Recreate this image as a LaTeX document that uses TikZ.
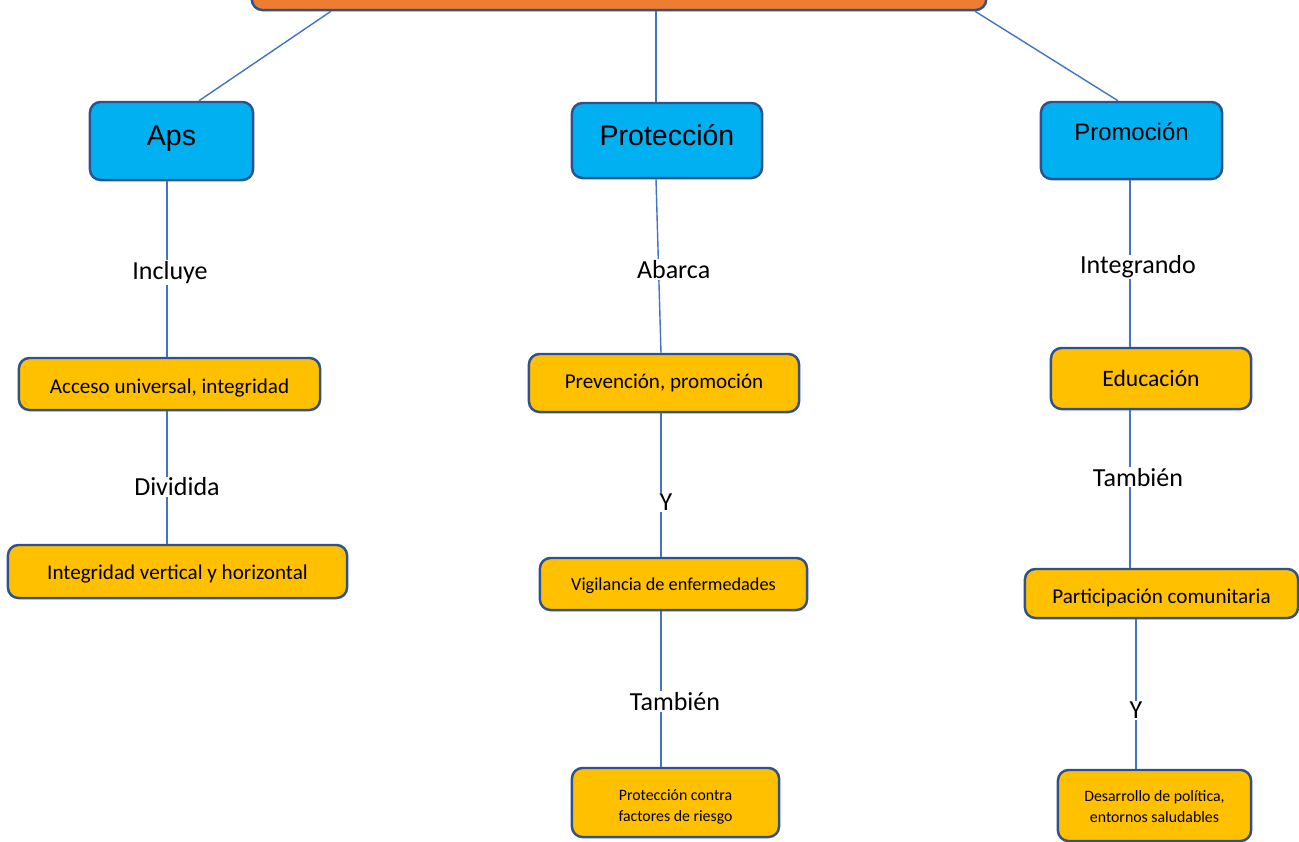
\documentclass[tikz,border=0pt]{standalone}
\usepackage{fontspec}
\setmainfont{Carlito}
\newfontfamily\arialfont{Liberation Sans}
\usepackage{xcolor}
\usetikzlibrary{positioning}

\definecolor{boxline}{HTML}{2F528F}
\definecolor{linkblue}{HTML}{4472C4}
\definecolor{topfill}{HTML}{ED7D31}
\definecolor{mainfill}{HTML}{00B0F0}
\definecolor{itemfill}{HTML}{FFC000}

% move text inside a box without changing its size
\newcommand{\txtshift}[2]{\raisebox{#1}[\height][\depth]{#2}}

\begin{document}
\begin{tikzpicture}[x=0.01cm, y=-0.01cm,
    topbox/.style={draw=boxline, line width=0.7pt, fill=topfill, rounded corners=3pt, inner sep=0pt},
    mainbox/.style={draw=boxline, line width=0.7pt, fill=mainfill, rounded corners=3pt, inner sep=0pt, font=\arialfont\fontsize{8.1}{9.5}\selectfont},
    itembox/.style={draw=boxline, line width=0.7pt, fill=itemfill, rounded corners=3pt, inner sep=0pt, align=center, font=\fontsize{6}{7.2}\selectfont},
    lbl/.style={fill=white, inner sep=0.3pt, font=\fontsize{7.4}{8.8}\selectfont},
    link/.style={draw=linkblue, line width=0.4pt}]

    \useasboundingbox (0,0) rectangle (1299,842);

    \node (top) [topbox, minimum width=7.34cm, minimum height=0.7cm] at (619,-25) {};

    \node (aps) [mainbox, minimum width=1.63cm, minimum height=0.78cm] at (171.5,141) {\txtshift{0.2mm}{Aps}};
    \node (prot) [mainbox, minimum width=1.90cm, minimum height=0.75cm] at (667,140.5) {\txtshift{0.5mm}{Protección}};
    \node (prom) [mainbox, minimum width=1.81cm, minimum height=0.77cm, font=\arialfont\fontsize{6.8}{8}\selectfont] at (1131.5,140.5) {\txtshift{0.9mm}{Promoción}};

    \node (acceso) [itembox, minimum width=3.01cm, minimum height=0.52cm] at (169.5,384) {\txtshift{-0.4mm}{Acceso universal, integridad}};
    \node (integ) [itembox, minimum width=3.39cm, minimum height=0.53cm] at (177.5,571.5) {\txtshift{-0.2mm}{Integridad vertical y horizontal}};

    \node (prev) [itembox, minimum width=2.70cm, minimum height=0.58cm] at (664,383) {Prevención, promoción};
    \node (vig) [itembox, minimum width=2.67cm, minimum height=0.52cm, font=\fontsize{5.2}{6.2}\selectfont] at (673.5,584) {\txtshift{-0.2mm}{Vigilancia de enfermedades}};
    \node (pcontra) [itembox, minimum width=2.07cm, minimum height=0.69cm, font=\fontsize{4.5}{6}\selectfont] at (675.5,802.5) {\txtshift{-0.4mm}{\begin{tabular}{@{}c@{}}Protección contra\\factores de riesgo\end{tabular}}};

    \node (edu) [itembox, minimum width=2.00cm, minimum height=0.61cm, font=\fontsize{6.7}{8}\selectfont] at (1151,378.5) {Educación};
    \node (part) [itembox, minimum width=2.73cm, minimum height=0.49cm] at (1161.5,593.5) {\txtshift{-0.4mm}{Participación comunitaria}};
    \node (desa) [itembox, minimum width=1.93cm, minimum height=0.71cm, font=\fontsize{4.5}{6}\selectfont] at (1154.5,805.5) {\txtshift{-0.25mm}{\begin{tabular}{@{}c@{}}Desarrollo de política,\\entornos saludables\end{tabular}}};

    % top level
    \draw [link] (top.south -| 331,0) -- (aps.north -| 199,0);
    \draw [link] (top.south -| 656,0) -- (prot.north -| 656,0);
    \draw [link] (top.south -| 975,0) -- (prom.north -| 1118,0);

    % Aps
    \draw [link] (aps.south -| 167,0) -- node[lbl, pos=0.52, xshift=0.03cm] {Incluye} (acceso.north -| 167,0);
    \draw [link] (acceso.south -| 167,0) -- node[lbl, pos=0.57, xshift=0.1cm] {Dividida} (integ.north -| 167,0);

    % Proteccion
    \draw [link] (prot.south -| 656,0) -- node[lbl, pos=0.52, xshift=0.15cm] {Abarca} (prev.north -| 661,0);
    \draw [link] (prev.south -| 661,0) -- node[lbl, pos=0.62, xshift=0.05cm] {Y} (vig.north -| 661,0);
    \draw [link] (vig.south -| 661,0) -- node[lbl, pos=0.58, xshift=0.14cm] {También} (pcontra.north -| 661,0);

    % Promocion
    \draw [link] (prom.south -| 1130,0) -- node[lbl, pos=0.52, xshift=0.08cm] {Integrando} (edu.north -| 1130,0);
    \draw [link] (edu.south -| 1130,0) -- node[lbl, pos=0.425, xshift=0.08cm] {También} (part.north -| 1130,0);
    \draw [link] (part.south -| 1136,0) -- node[lbl, pos=0.61] {Y} (desa.north -| 1136,0);
\end{tikzpicture}
\end{document}
